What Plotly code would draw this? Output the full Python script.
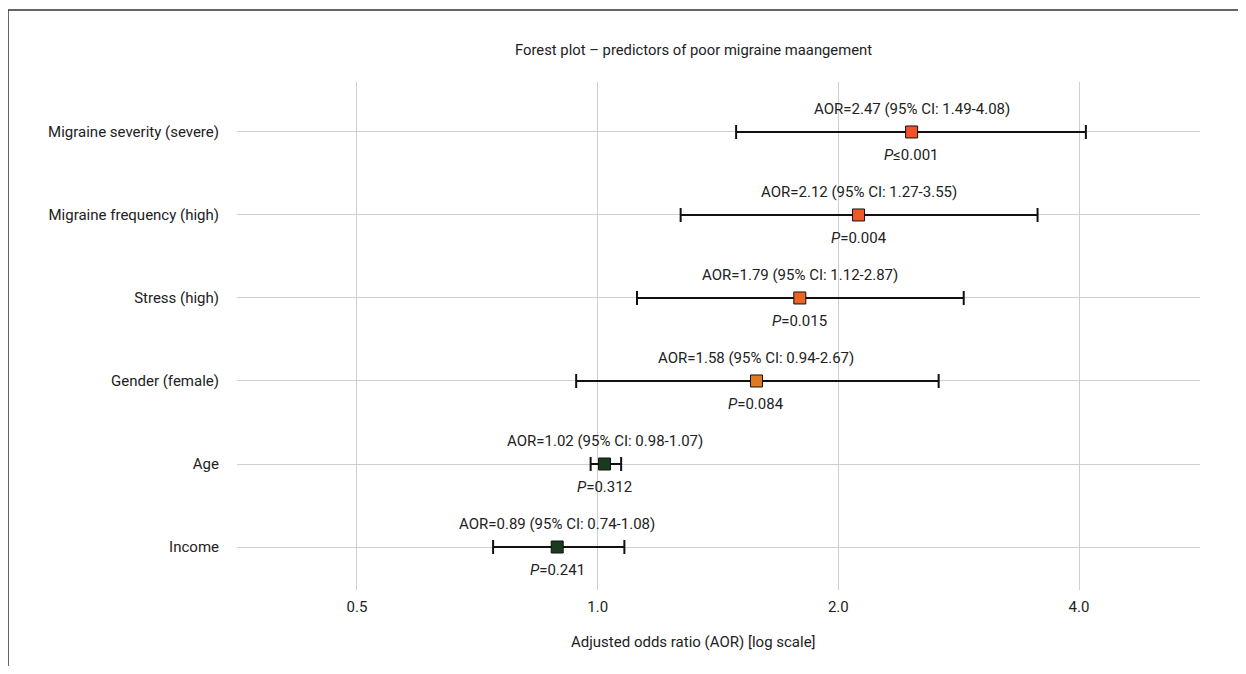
import numpy as np
import plotly.graph_objects as go

# ---- data ----
predictors = ["Income", "Age", "Gender (female)", "Stress (high)",
              "Migraine frequency (high)", "Migraine severity (severe)"]
aor = [0.89, 1.02, 1.58, 1.79, 2.12, 2.47]
ci_low = [0.74, 0.98, 0.94, 1.12, 1.27, 1.49]
ci_high = [1.08, 1.07, 2.67, 2.87, 3.55, 4.08]
p_text = ["=0.241", "=0.312", "=0.084", "=0.015", "=0.004", "≤0.001"]
marker_colors = ["#1c3a1e", "#1c3a1e", "#e07a22", "#ec6424", "#ee5a26", "#f0522a"]
x_tickvals = [0.5, 1.0, 2.0, 4.0]
x_ticktext = ["0.5", "1.0", "2.0", "4.0"]

FONT = "Roboto, Liberation Sans, sans-serif"
OFF = 8  # page body margin in the browser
W, H = 1246 - 2 * OFF, 674 - 2 * OFF
# plot area in reference pixels: x 237..1200, y 82..590
L = 237 - OFF
T = 82 - OFF
R = W - (1200 - OFF)
B = H - (590 - OFF)
pw, ph = W - L - R, H - T - B


def px_x(x):
    return (x - OFF - L) / pw


def px_y(y):
    return 1 - (y - OFF - T) / ph


fig = go.Figure()
fig.add_trace(go.Scatter(
    x=aor, y=predictors, mode="markers",
    marker=dict(symbol="square", size=12, color=marker_colors,
                line=dict(color="#111111", width=1)),
    error_x=dict(type="data", symmetric=False,
                 array=[h - a for h, a in zip(ci_high, aor)],
                 arrayminus=[a - l for a, l in zip(aor, ci_low)],
                 color="#111111", thickness=2, width=7),
    showlegend=False, hoverinfo="skip"))

# reference line at AOR = 1
fig.add_shape(type="line", xref="x", yref="paper",
              x0=np.log10(1.0), x1=np.log10(1.0), y0=0, y1=1,
              line=dict(color="#111111", width=2, dash="6px,4px"), layer="above")

TXT = dict(family=FONT, size=15, color="#222222")
for pred, a, lo, hi, p in zip(predictors, aor, ci_low, ci_high, p_text):
    fig.add_annotation(x=np.log10(a), y=pred, xref="x", yref="y",
                       text=f"AOR={a:.2f} (95% CI: {lo:.2f}-{hi:.2f})",
                       showarrow=False, yshift=23, xanchor="center", yanchor="middle",
                       font=TXT)
    fig.add_annotation(x=np.log10(a), y=pred, xref="x", yref="y",
                       text=f"<i>P</i>{p}",
                       showarrow=False, yshift=-23, xanchor="center", yanchor="middle",
                       font=TXT)

# title & axis title
fig.add_annotation(x=px_x(693), y=px_y(50), xref="paper", yref="paper",
                   xanchor="center", yanchor="middle",
                   text="Forest plot – predictors of poor migraine maangement",
                   showarrow=False, font=dict(family=FONT, size=14.8, color="#222222"))
fig.add_annotation(x=px_x(693), y=px_y(642), xref="paper", yref="paper",
                   xanchor="center", yanchor="middle",
                   text="Adjusted odds ratio (AOR) [log scale]",
                   showarrow=False, font=TXT)

# partial frame (top and left)
fig.add_shape(type="line", xref="paper", yref="paper",
              x0=px_x(8), x1=px_x(1246), y0=px_y(10), y1=px_y(10),
              line=dict(color="#333333", width=1.5))
fig.add_shape(type="line", xref="paper", yref="paper",
              x0=px_x(8), x1=px_x(8), y0=px_y(10), y1=px_y(674),
              line=dict(color="#333333", width=1.5))

fig.update_xaxes(type="log", range=[-0.4511, 0.7534],
                 tickvals=x_tickvals, ticktext=x_ticktext,
                 showgrid=True, gridcolor="#cfcfcf", gridwidth=1,
                 zeroline=False, showline=False, ticks="",
                 ticklabelstandoff=6,
                 tickfont=TXT)
fig.update_yaxes(type="category", categoryorder="array", categoryarray=predictors,
                 range=[-0.518, 5.602],
                 showgrid=True, gridcolor="#cfcfcf", gridwidth=1,
                 zeroline=False, showline=False, ticks="",
                 ticklabelstandoff=17,
                 tickfont=TXT)

fig.update_layout(width=W, height=H,
                  margin=dict(l=L, r=R, t=T, b=B, autoexpand=False),
                  paper_bgcolor="white", plot_bgcolor="white",
                  font=TXT)

fig.write_html("out.html")
